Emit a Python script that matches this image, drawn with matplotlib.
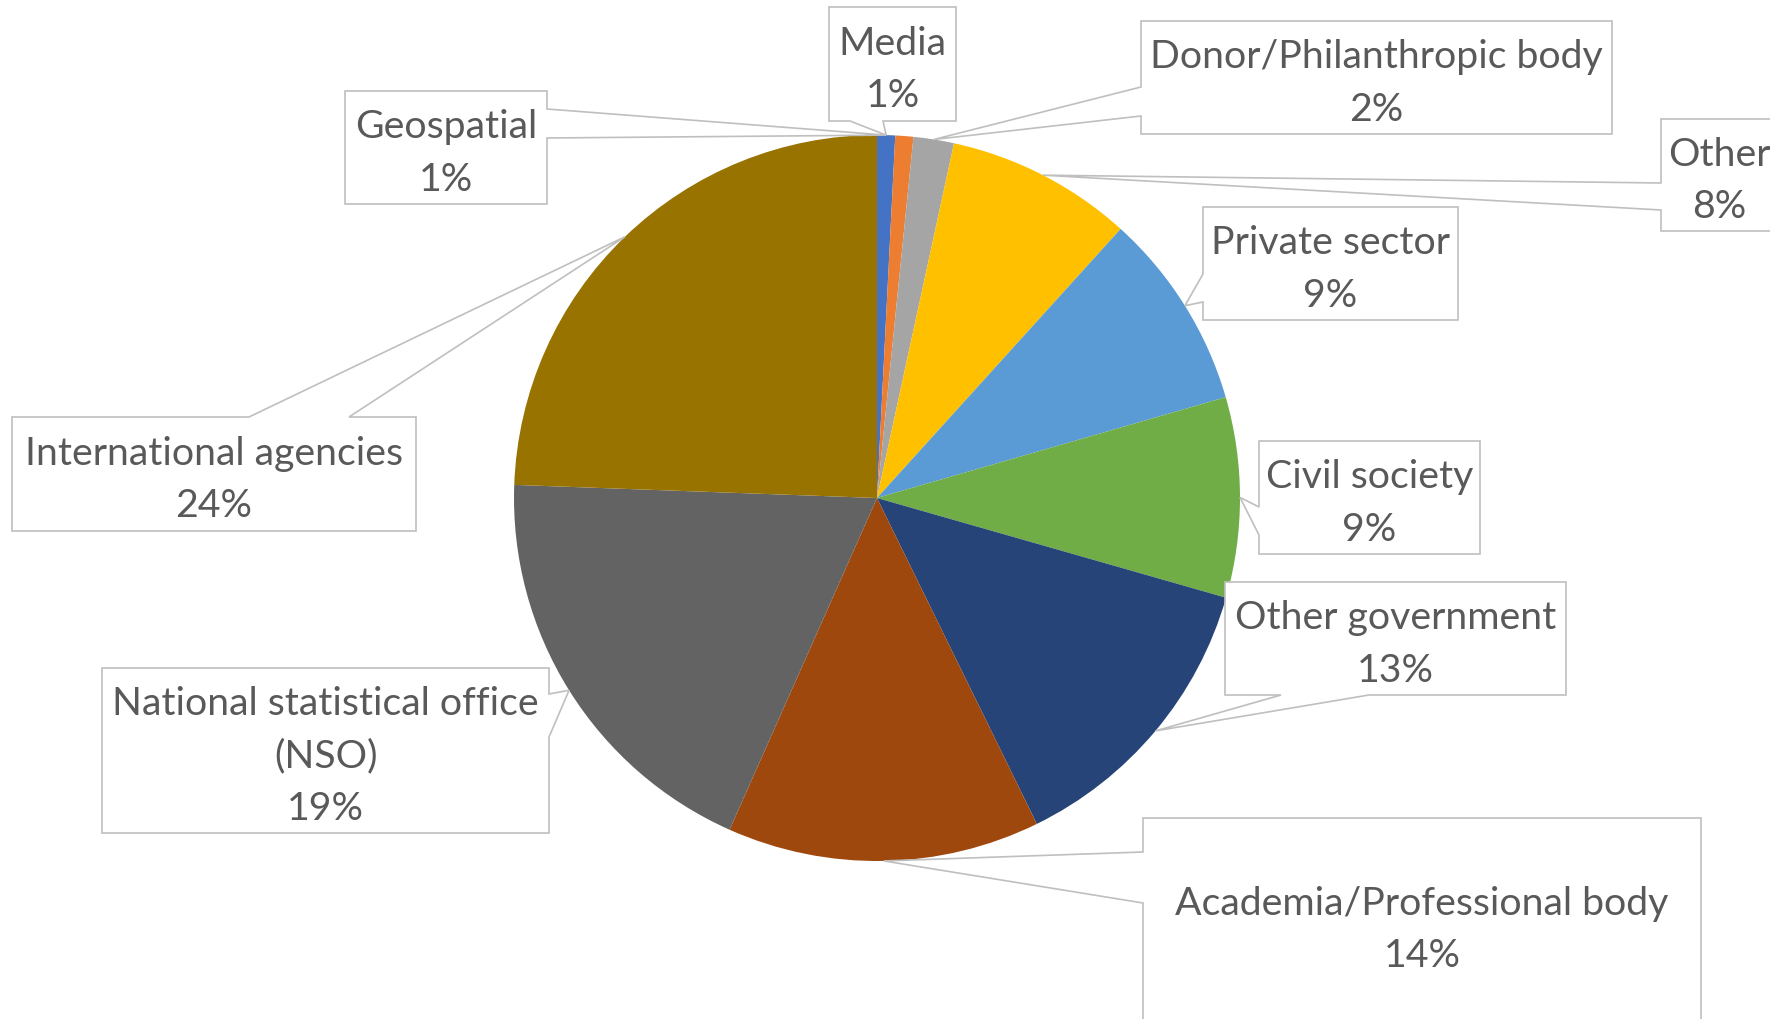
import numpy as np
import matplotlib.pyplot as plt
from matplotlib.patches import Polygon

# Données du graphique (parts en %)
labels = ['Geospatial', 'Media', 'Donor/Philanthropic body', 'Other',
          'Private sector', 'Civil society', 'Other government',
          'Academia/Professional body', 'National statistical office\n(NSO)',
          'International agencies']
shares = [0.8, 0.8, 1.8, 8.3, 8.8, 8.9, 13.3, 13.9, 18.9, 24.4]
colors = ['#4472C4', '#ED7D31', '#A5A5A5', '#FFC000', '#5B9BD5',
          '#70AD47', '#264478', '#9E480E', '#636363', '#997300']

# Mise en page des bulles (pixels de l'image 1770x1019)
boxes = [(345, 91, 547, 204), (829, 7, 956, 121), (1141, 21, 1612, 134),
         (1661, 119, 1777, 231), (1203, 207, 1458, 320), (1259, 441, 1480, 554),
         (1225, 582, 1566, 695), (1143, 818, 1701, 1030), (102, 668, 549, 833),
         (12, 417, 416, 531)]
sides = ['right', 'bottom', 'left', 'left', 'left', 'left', 'bottom', 'left', 'right', 'top']
bases = [(109, 138), (850, 883), (87, 116), (183, 210), (274, 302), (507, 535),
         (1281, 1369), (852, 903), (694, 737), (249, 349)]
anchor = [0.5, -0.5, 0.5, 0.5, 0.5, 0.5, 0.5, 0.5, 0.5, 0.5]  # point d'attache dans la part

W, H = 1770, 1019
fig = plt.figure(figsize=(W / 100, H / 100), dpi=100)
ax = fig.add_axes([0, 0, 1, 1])
wedges, _ = ax.pie(shares, colors=colors, startangle=-90, counterclock=True,
                   center=(877, 498), radius=363, wedgeprops=dict(linewidth=0))
ax.set_xlim(0, W)
ax.set_ylim(H, 0)
ax.set_aspect('auto')
ax.axis('off')

for w, lab, v, (x0, y0, x1, y1), side, (a, b), f in zip(wedges, labels, shares, boxes, sides, bases, anchor):
    ang = np.deg2rad(w.theta1 + f * (w.theta2 - w.theta1))
    tip = (w.center[0] + w.r * np.cos(ang), w.center[1] + w.r * np.sin(ang))
    if side == 'right':
        pts = [(x0, y0), (x1, y0), (x1, a), tip, (x1, b), (x1, y1), (x0, y1)]
    elif side == 'left':
        pts = [(x0, y0), (x1, y0), (x1, y1), (x0, y1), (x0, b), tip, (x0, a)]
    elif side == 'top':
        pts = [(x0, y0), (a, y0), tip, (b, y0), (x1, y0), (x1, y1), (x0, y1)]
    else:
        pts = [(x0, y0), (x1, y0), (x1, y1), (b, y1), tip, (a, y1), (x0, y1)]
    ax.add_patch(Polygon(pts, closed=True, facecolor='white', edgecolor='#BFBFBF',
                         linewidth=1.2, zorder=3))
    ax.text((x0 + x1) / 2, (y0 + y1) / 2 + 6, f'{lab}\n{round(v)}%', ha='center', va='center',
            fontsize=28.3, color='#595959', family='Lato', linespacing=1.56, zorder=4)

fig.savefig('out.png', dpi=100)
